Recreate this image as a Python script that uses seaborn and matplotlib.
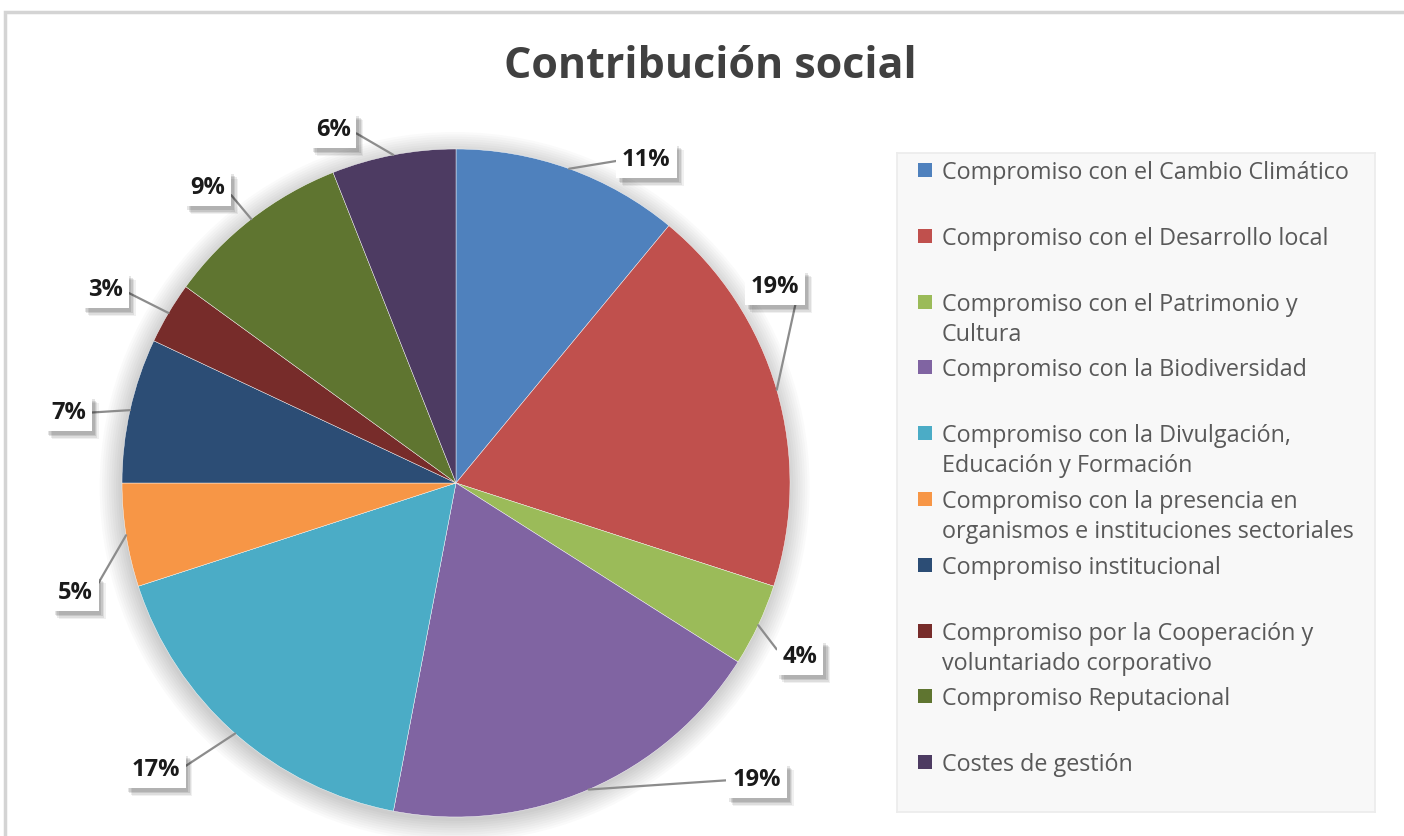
import numpy as np
import matplotlib
matplotlib.use("Agg")
import matplotlib.pyplot as plt
import matplotlib.patheffects as pe
from matplotlib.patches import Rectangle, Circle
import seaborn as sns

# ---------------- data ----------------
categories = [
    "Compromiso con el Cambio Climático",
    "Compromiso con el Desarrollo local",
    "Compromiso con el Patrimonio y\nCultura",
    "Compromiso con la Biodiversidad",
    "Compromiso con la Divulgación,\nEducación y Formación",
    "Compromiso con la presencia en\norganismos e instituciones sectoriales",
    "Compromiso institucional",
    "Compromiso por la Cooperación y\nvoluntariado corporativo",
    "Compromiso Reputacional",
    "Costes de gestión",
]
values = [11, 19, 4, 19, 17, 5, 7, 3, 9, 6]
colors = ["#4F81BD", "#C0504D", "#9BBB59", "#8064A2", "#4BACC6",
          "#F79646", "#2C4D75", "#772C2A", "#5F7530", "#4D3B62"]
title = "Contribución social"

# label box positions (layout, in pie-radius units)
label_pos = [(0.57, 0.967), (0.955, 0.587), (1.03, -0.521), (0.90, -0.889),
             (-0.90, -0.859), (-1.14, -0.329), (-1.16, 0.210), (-1.05, 0.578),
             (-0.743, 0.883), (-0.368, 1.057)]

sns.set_theme(style="white")
plt.rcParams['font.family'] = ['Open Sans', 'DejaVu Sans']

W, H = 1404, 836
fig = plt.figure(figsize=(W / 100, H / 100), dpi=100)
fig.patch.set_facecolor("white")

# outer frame (top/left border)
fig.patches.append(Rectangle((5 / W, -0.05), 1.2, 1 - 12 / H + 0.05,
                             transform=fig.transFigure, fill=False,
                             edgecolor="#d4d4d4", lw=2.5, zorder=0))

# ---------------- pie ----------------
R = 334.0
cx, cy = 456.0, 483.0
axw = 880.0
ax = fig.add_axes([0, 0, axw / W, 1])
ax.axis("off")

# soft shadow
for k in range(10):
    ax.add_patch(Circle((-0.004, -0.012), 1.0 + 0.007 * k, color="black",
                        alpha=0.018, lw=0, zorder=0))

pal = sns.color_palette(colors)
wedges, _ = ax.pie(values, colors=pal, startangle=90, counterclock=False,
                   radius=1.0, center=(0, 0),
                   wedgeprops=dict(edgecolor="white", linewidth=0.3))
ax.set_xlim(-cx / R, (axw - cx) / R)
ax.set_ylim(-(H - cy) / R, cy / R)
ax.set_aspect("auto")

# softened box shadow: several layered offsets
shadow = [pe.withSimplePatchShadow(offset=(dx, -dx - 1), shadow_rgbFace="#000000", alpha=a)
          for dx, a in [(5, 0.06), (4, 0.08), (3, 0.10), (2, 0.10)]]
cum = np.cumsum([0] + values[:-1])
total = float(sum(values))
for i, v in enumerate(values):
    mid = (cum[i] + v / 2) / total
    ang = np.deg2rad(90 - 360 * mid)
    px, py = np.cos(ang), np.sin(ang)
    lx, ly = label_pos[i]
    relx = 0.0 if lx > px else 1.0
    ann = ax.annotate(f"{v}%", xy=(px, py), xytext=(lx, ly),
                      ha="center", va="center", fontsize=17, fontweight="bold",
                      color="#1a1a1a",
                      bbox=dict(boxstyle="square,pad=0.25", fc="white", ec="none"),
                      arrowprops=dict(arrowstyle="-", color="#8c8c8c", lw=1.6,
                                      relpos=(relx, 0.5), shrinkA=0, shrinkB=0),
                      zorder=5)
    ann.get_bbox_patch().set_path_effects(shadow)

# ---------------- title ----------------
fig.text(710 / W, 1 - 67 / H, title, ha="center", va="center",
         fontsize=31, fontweight="bold", color="#404040")

# ---------------- legend ----------------
lx0, ly0, lx1, ly1 = 897, 153, 1375, 812
lax = fig.add_axes([lx0 / W, 1 - ly1 / H, (lx1 - lx0) / W, (ly1 - ly0) / H])
lax.set_xlim(0, lx1 - lx0)
lax.set_ylim(ly1 - ly0, 0)
lax.set_facecolor("#f8f8f8")
for s in lax.spines.values():
    s.set_color("#ececec")
lax.set_xticks([])
lax.set_yticks([])
step = 65.8
for i, (lab, c) in enumerate(zip(categories, pal)):
    y = 17 + step * i
    lax.add_patch(Rectangle((21, y - 7), 14, 14, color=c, lw=0))
    for j, line in enumerate(lab.split("\n")):
        lax.text(45, y + 30 * j, line, ha="left", va="center_baseline",
                 fontsize=16.8, color="#595959")

fig.savefig("out.png", dpi=100, facecolor="white")
